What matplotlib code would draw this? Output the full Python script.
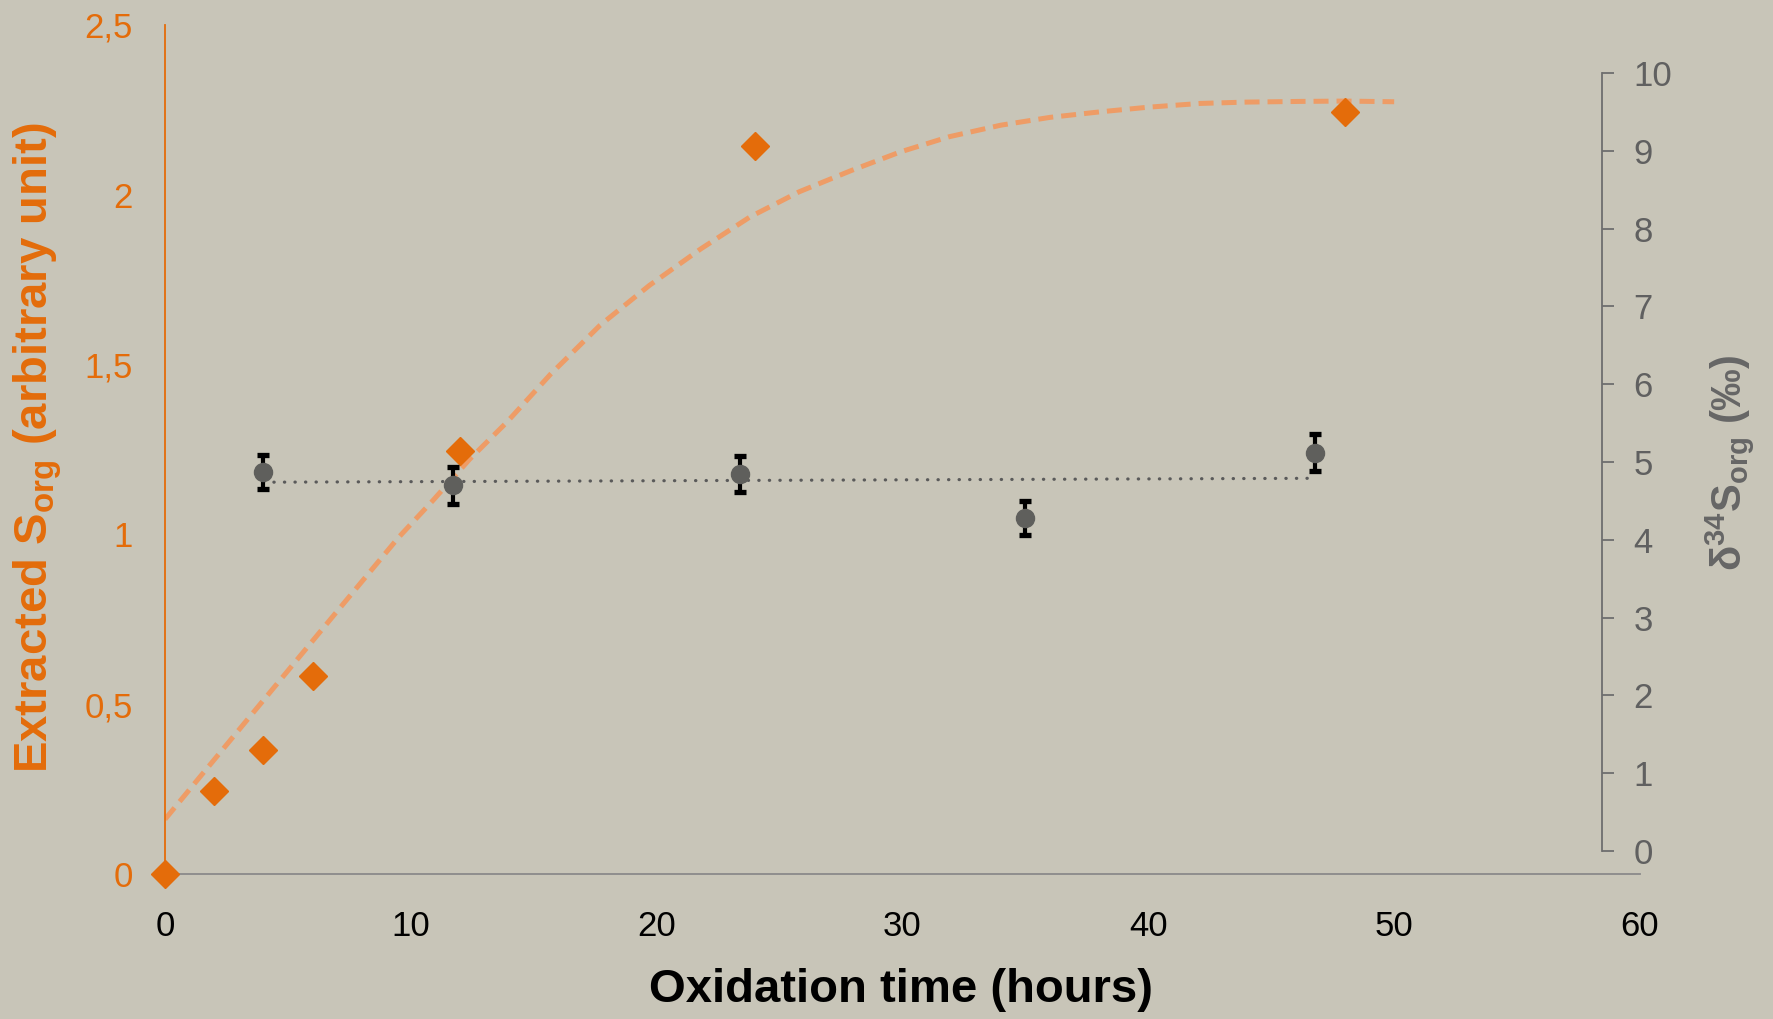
import numpy as np
import matplotlib
matplotlib.use('Agg')
import matplotlib.pyplot as plt

plt.rcParams['font.family'] = ['Liberation Sans', 'DejaVu Sans']
plt.rcParams['mathtext.fontset'] = 'custom'
plt.rcParams['mathtext.rm'] = 'Liberation Sans'
plt.rcParams['mathtext.bf'] = 'Liberation Sans:bold'
plt.rcParams['mathtext.it'] = 'Liberation Sans:italic'

# extracted S_org (left axis)
hours_s = [0, 2, 4, 6, 12, 24, 48]
s_org = [0, 0.245, 0.366, 0.584, 1.245, 2.144, 2.244]

# trend curve for S_org
trend_hours = [0, 1.4, 4.1, 6.8, 9.5, 10.9, 12.4, 13.9, 15.7, 17.7, 19.7, 21.8, 23.8,
               25.8, 27.9, 29.9, 31.9, 34, 36, 38, 40, 42.1, 44, 46.2, 48, 50]
trend_vals = [0.161, 0.284, 0.520, 0.756, 0.991, 1.10, 1.222, 1.33, 1.473, 1.616,
              1.733, 1.841, 1.935, 2.009, 2.071, 2.126, 2.171, 2.205, 2.228, 2.244,
              2.258, 2.269, 2.273, 2.275, 2.276, 2.274]

# delta 34S of S_org (right axis)
hours_d = [4, 11.7, 23.4, 35, 46.8]
d34s = [4.87, 4.70, 4.85, 4.28, 5.12]
d34s_err = [0.22, 0.24, 0.23, 0.22, 0.24]

x_ticks = [0, 10, 20, 30, 40, 50, 60]
left_ticks = [0, 0.5, 1, 1.5, 2, 2.5]
left_labels = ['0', '0,5', '1', '1,5', '2', '2,5']
right_ticks = list(range(11))

bg = '#c8c5b8'
orange = '#e46c0a'
orange_light = '#ee9c66'
grey = '#5f5f5c'

W, H = 1773, 1019
fig = plt.figure(figsize=(W / 100, H / 100), dpi=100, facecolor=bg)

# main axes: x 0..60, left y 0..2.5
x0, x1 = 165, 1640
ax1 = fig.add_axes([x0 / W, 1 - 874 / H, (x1 - x0) / W, (874 - 25) / H])
ax1.set_facecolor('none')
ax1.set_xlim(0, 60)
ax1.set_ylim(0, 2.5)
for s in ['top', 'right']:
    ax1.spines[s].set_visible(False)
ax1.spines['left'].set_color(orange)
ax1.spines['left'].set_linewidth(1.3)
ax1.spines['bottom'].set_color('#8a8a8a')
ax1.spines['bottom'].set_linewidth(1.3)
ax1.set_xticks(x_ticks)
ax1.set_yticks(left_ticks)
ax1.set_yticklabels(left_labels)
ax1.tick_params(axis='x', length=0, pad=26, labelsize=25, labelcolor='black')
ax1.tick_params(axis='y', length=0, pad=23, labelsize=25, labelcolor=orange)

# trendline
ax1.plot(trend_hours, trend_vals, color=orange_light, lw=3.6,
         linestyle=(0, (3, 1.6)), solid_joinstyle='round', zorder=2)
ax1.plot(hours_s, s_org, linestyle='none', marker='D', ms=14,
         color=orange, clip_on=False, zorder=5)

# second axes for delta 34S, vertically offset
ax2 = fig.add_axes([x0 / W, 1 - 851 / H, (x1 - x0) / W, (851 - 73) / H])
ax2.set_facecolor('none')
ax2.set_xlim(0, 60)
ax2.set_ylim(0, 10)
for s in ['top', 'left', 'bottom']:
    ax2.spines[s].set_visible(False)
ax2.spines['right'].set_position(('axes', (1602 - x0) / (x1 - x0)))
ax2.spines['right'].set_color('#6e6e6e')
ax2.spines['right'].set_linewidth(1.3)
ax2.set_xticks([])
ax2.yaxis.tick_right()
ax2.set_yticks(right_ticks)
ax2.tick_params(axis='y', direction='out', length=8.5, width=1.3, color='#6e6e6e',
                pad=14, labelsize=25, labelcolor='#606060')

fit = np.polyfit(hours_d, d34s, 1)
xd = np.array([hours_d[0], hours_d[-1]])
ax2.plot(xd, np.polyval(fit, xd), color='#5a5a5a', lw=2.3,
         linestyle=(0, (0.1, 3.2)), dash_capstyle='round', zorder=2)
ax2.errorbar(hours_d, d34s, yerr=d34s_err, fmt='o', ms=13, color=grey,
             ecolor='black', elinewidth=3, capsize=4.3, capthick=3.8, zorder=4)

# axis titles
fig.text(901 / W, 1 - 990 / H, 'Oxidation time (hours)', fontsize=34,
         fontweight='bold', ha='center', va='center', color='black')
fig.text(38 / W, 1 - 448 / H, r'$\mathbf{Extracted\ S_{org}\ (arbitrary\ unit)}$',
         fontsize=34, rotation=90, ha='center', va='center', color=orange)
fig.text(1730 / W, 1 - 463 / H, r'$\mathbf{δ^{34}S_{org}\ (‰)}$',
         fontsize=30, rotation=90, ha='center', va='center', color='#666666')

fig.savefig('out.png', dpi=100, facecolor=bg)
